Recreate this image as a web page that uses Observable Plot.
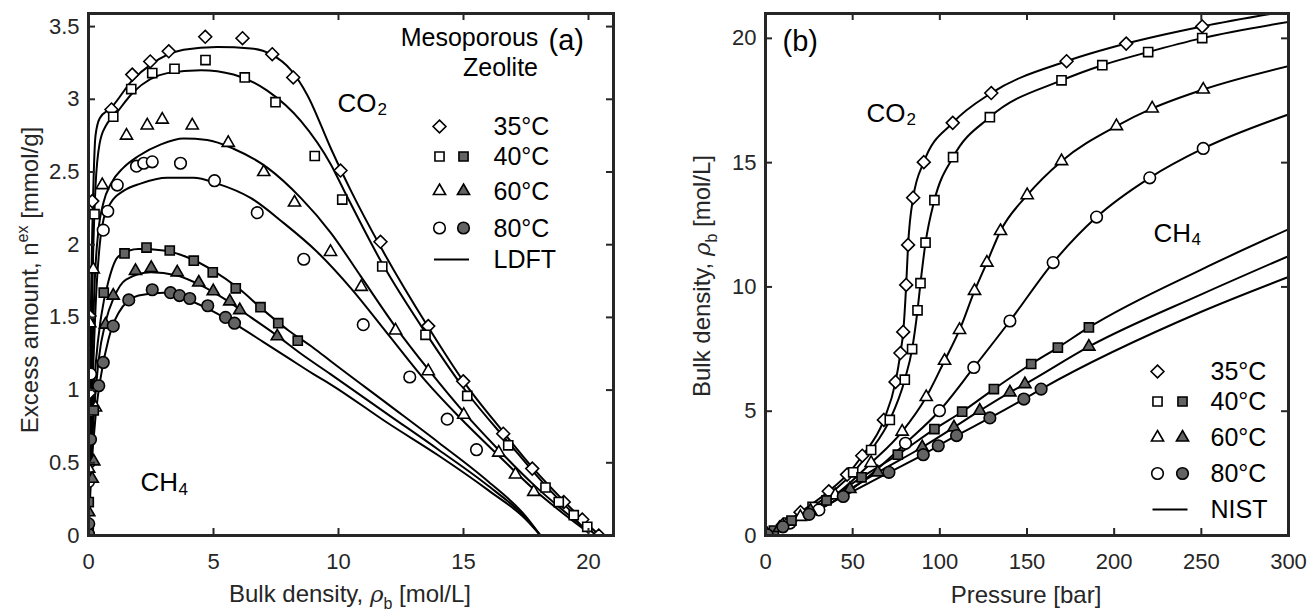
<!DOCTYPE html>
<html><head><meta charset="utf-8">
<script src="https://cdn.jsdelivr.net/npm/d3@7"></script>
<script src="https://cdn.jsdelivr.net/npm/@observablehq/plot@0.6"></script>
<style>
body{margin:0;background:#fff;}
#fig{position:relative;width:1309px;height:610px;font-family:'Liberation Sans',Arial,Helvetica,sans-serif;color:#262626;}
.panel{position:absolute;top:0;}
.lab{position:absolute;font-size:24px;white-space:nowrap;line-height:24px;color:#262626;}
.lab sup{font-size:16px;vertical-align:10px;line-height:0;}
.lab sub{font-size:16px;vertical-align:-7px;line-height:0;}
.lab i{font-family:'DejaVu Serif',serif;font-size:23px;}
</style></head>
<body><div id="fig"></div>
<script>
// ---------- Panel (a): excess amount vs bulk density ----------
const aXTicks = [0, 5, 10, 15, 20];
const aYTicks = [0, 0.5, 1, 1.5, 2, 2.5, 3, 3.5];
// measured points [bulk density mol/L, excess mmol/g]
const aCO2_35 = [[0.02,0.49],[0.03,0.98],[0.04,1.51],[0.15,2.30],[0.92,2.93],[1.75,3.17],[2.47,3.26],[3.21,3.33],[4.67,3.43],[6.16,3.42],[7.35,3.31],[8.19,3.15],[10.08,2.51],[11.68,2.02],[13.59,1.44],[14.99,1.06],[16.59,0.70],[17.75,0.46],[19.01,0.23],[19.75,0.11],[20.41,0.0]];
const aCO2_40 = [[0.01,0.85],[0.24,2.21],[0.99,2.88],[1.71,3.07],[2.55,3.18],[3.44,3.21],[4.68,3.27],[6.25,3.15],[7.48,2.98],[9.05,2.61],[10.15,2.31],[11.75,1.85],[13.48,1.38],[15.15,0.96],[16.79,0.62],[18.28,0.33],[18.81,0.23],[19.41,0.14],[19.95,0.06]];
const aCO2_60 = [[0.01,0.46],[0.28,0.88],[0.05,1.46],[0.19,1.83],[0.55,2.41],[1.52,2.75],[2.35,2.82],[2.95,2.86],[4.15,2.82],[5.59,2.70],[7.01,2.50],[8.24,2.29],[9.68,1.95],[10.91,1.71],[12.28,1.41],[13.59,1.13],[15.01,0.83],[16.41,0.57],[17.08,0.42],[17.81,0.30]];
const aCO2_80 = [[0.0,0.37],[0.08,1.11],[0.59,2.10],[0.77,2.23],[1.15,2.41],[1.92,2.54],[2.21,2.56],[2.55,2.57],[3.68,2.56],[5.04,2.44],[6.75,2.22],[8.61,1.90],[10.99,1.45],[12.85,1.09],[14.35,0.80],[15.52,0.59]];
const aCH4_40 = [[0.01,0.06],[0.01,0.23],[0.21,0.86],[0.61,1.67],[1.44,1.94],[2.32,1.98],[3.25,1.96],[4.21,1.89],[4.97,1.81],[5.89,1.70],[6.88,1.57],[7.59,1.46],[8.37,1.34]];
const aCH4_60 = [[0.01,0.16],[0.15,0.39],[0.21,0.51],[0.68,1.45],[0.99,1.65],[1.88,1.82],[2.51,1.84],[3.55,1.81],[4.41,1.74],[4.99,1.68],[5.65,1.61],[6.05,1.55],[7.55,1.37]];
const aCH4_80 = [[0.0,0.01],[0.01,0.08],[0.08,0.66],[0.41,1.03],[0.59,1.19],[0.99,1.44],[1.61,1.62],[2.55,1.69],[3.28,1.67],[3.64,1.65],[4.05,1.63],[4.77,1.58],[5.48,1.50],[5.84,1.46]];
// LDFT model curves
const ldftCO2_35 = [[0,0],[0.05,0.8],[0.1,1.6],[0.18,2.3],[0.28,2.75],[0.45,2.87],[0.9,2.94],[1.75,3.13],[2.5,3.24],[3.8,3.34],[5.15,3.36],[6.5,3.35],[7.3,3.31],[8.1,3.2],[8.75,3.03],[9.7,2.66],[10.5,2.37],[11.7,1.98],[13.6,1.43],[15,1.06],[16.6,0.71],[17.8,0.46],[19,0.24],[20,0.07],[20.45,0.0]];
const ldftCO2_40 = [[0,0],[0.05,0.6],[0.1,1.2],[0.18,1.9],[0.28,2.4],[0.45,2.7],[0.7,2.82],[1.0,2.88],[1.8,3.05],[3.15,3.18],[4.5,3.2],[5.8,3.17],[7.15,3.06],[8.5,2.85],[9.7,2.55],[10.2,2.38],[11.75,1.87],[13.5,1.39],[15.15,0.98],[16.8,0.64],[18.3,0.34],[19.4,0.15],[20.3,0.0]];
const ldftCO2_60 = [[0,0],[0.08,0.6],[0.15,1.2],[0.25,1.75],[0.4,2.1],[0.6,2.29],[0.9,2.42],[1.4,2.53],[2.0,2.61],[2.9,2.69],[3.8,2.73],[4.75,2.72],[5.8,2.66],[7.15,2.53],[8.5,2.32],[9.7,2.08],[10.9,1.78],[12.3,1.43],[13.6,1.14],[15,0.85],[16.4,0.59],[17.8,0.35],[19,0.17],[20,0.03]];
const ldftCO2_80 = [[0,0],[0.1,0.6],[0.2,1.2],[0.32,1.7],[0.45,2.0],[0.61,2.18],[0.9,2.29],[1.4,2.37],[2.08,2.42],[3.15,2.46],[4.2,2.46],[5.15,2.42],[6.5,2.32],[7.8,2.15],[9.15,1.95],[10.5,1.7],[12,1.38],[13.5,1.06],[14.8,0.82],[16.4,0.55],[17.8,0.32],[19,0.15],[20,0.02]];
const ldftCH4_40 = [[0,0],[0.05,0.4],[0.15,0.8],[0.3,1.2],[0.5,1.5],[0.8,1.75],[1.2,1.92],[2.0,1.97],[3.0,1.96],[4.0,1.91],[5.0,1.82],[6.0,1.7],[7.0,1.55],[8.0,1.41],[9.0,1.29],[9.68,1.2],[12,0.9],[14,0.64],[16,0.37],[17.5,0.13],[18.08,0.0]];
const ldftCH4_60 = [[0,0],[0.08,0.4],[0.2,0.8],[0.4,1.2],[0.7,1.48],[1.0,1.63],[1.5,1.76],[2.5,1.81],[3.5,1.79],[4.5,1.72],[5.5,1.62],[6.5,1.5],[7.5,1.38],[8.5,1.25],[9.68,1.11],[12,0.83],[14,0.59],[16,0.34],[17.5,0.12],[18.08,0.0]];
const ldftCH4_80 = [[0,0],[0.1,0.4],[0.3,0.85],[0.5,1.1],[0.8,1.35],[1.2,1.53],[2.0,1.65],[3.0,1.67],[4.0,1.62],[5.0,1.54],[6.0,1.44],[7.0,1.33],[8.0,1.22],[9.0,1.11],[9.68,1.04],[12,0.77],[14,0.55],[16,0.31],[17.5,0.11],[18.08,0.0]];

// ---------- Panel (b): bulk density vs pressure ----------
const bXTicks = [0, 50, 100, 150, 200, 250, 300];
const bYTicks = [0, 5, 10, 15, 20];
const bCO2_35 = [[0.5,0.02],[10,0.43],[20.1,0.94],[36.3,1.78],[46.8,2.45],[55.5,3.21],[67.9,4.65],[74.6,6.18],[77.4,7.34],[79.0,8.19],[80.7,10.08],[81.8,11.69],[84.7,13.59],[90.8,15.02],[107.4,16.6],[129.5,17.8],[172.7,19.08],[206.9,19.79],[250.5,20.48]];
const bCO2_40 = [[1,0.04],[13,0.52],[27,1.15],[50.3,2.54],[60.6,3.44],[71.3,4.65],[79.9,6.27],[84.1,7.5],[87.2,9.06],[88.9,10.15],[91.8,11.78],[96.9,13.49],[107.6,15.22],[128.7,16.83],[169.8,18.31],[193.2,18.92],[219.5,19.45],[250.5,20.01]];
const bCO2_60 = [[1,0.04],[20,0.75],[40,1.62],[60.6,2.92],[78.4,4.18],[92.2,5.57],[102.7,7.03],[111.3,8.27],[119.9,9.84],[127,10.98],[134.8,12.25],[150.1,13.69],[169.8,15.06],[201.3,16.47],[221.8,17.18],[251.1,17.94]];
const bCO2_80 = [[1,0.03],[14,0.5],[30.6,1.03],[80.3,3.71],[99.8,5.02],[119.5,6.76],[140.2,8.63],[165,10.98],[189.9,12.81],[220.4,14.39],[251.1,15.57]];
const bCH4_40 = [[1,0.04],[4.8,0.2],[14.9,0.6],[35,1.41],[55.1,2.34],[75.9,3.25],[96.9,4.28],[112.8,4.98],[131,5.89],[152.4,6.9],[167.7,7.56],[185.5,8.37]];
const bCH4_60 = [[1,0.03],[8,0.3],[25.8,1.0],[48.4,1.87],[64.4,2.54],[89.9,3.55],[108.1,4.35],[122.9,5.02],[140.2,5.76],[148.8,6.09],[185.5,7.6]];
const bCH4_80 = [[1,0.03],[10,0.35],[25,0.85],[44.6,1.57],[70.8,2.54],[90.5,3.25],[99.1,3.61],[109.6,4.02],[128.7,4.73],[148.2,5.49],[158.1,5.89]];
// NIST curves
const nistCO2_35 = [[0,0],[10,0.43],[20.1,0.94],[36.3,1.78],[46.8,2.45],[55.5,3.21],[67.9,4.65],[74.6,6.18],[77.4,7.34],[79.0,8.19],[80.7,10.08],[81.8,11.69],[84.7,13.59],[90.8,15.02],[107.4,16.6],[129.5,17.8],[172.7,19.08],[206.9,19.79],[250.5,20.48],[300,21.1]];
const nistCO2_40 = [[0,0],[13,0.52],[27,1.15],[50.3,2.54],[60.6,3.44],[71.3,4.65],[79.9,6.27],[84.1,7.5],[87.2,9.06],[88.9,10.15],[91.8,11.78],[96.9,13.49],[107.6,15.22],[128.7,16.83],[169.8,18.31],[193.2,18.92],[219.5,19.45],[250.5,20.01],[300,20.66]];
const nistCO2_60 = [[0,0],[20,0.75],[40,1.62],[60.6,2.92],[78.4,4.18],[92.2,5.57],[102.7,7.03],[111.3,8.27],[119.9,9.84],[127,10.98],[134.8,12.25],[150.1,13.69],[169.8,15.06],[201.3,16.47],[221.8,17.18],[251.1,17.94],[300,18.88]];
const nistCO2_80 = [[0,0],[14,0.5],[30.6,1.03],[56,2.2],[80.3,3.71],[99.8,5.02],[119.5,6.76],[140.2,8.63],[165,10.98],[189.9,12.81],[220.4,14.39],[251.1,15.57],[300,16.94]];
const nistCH4_40 = [[0,0],[14.9,0.6],[35,1.41],[55.1,2.34],[75.9,3.25],[96.9,4.28],[112.8,4.98],[131,5.89],[152.4,6.9],[167.7,7.56],[185.5,8.37],[250,10.7],[300,12.32]];
const nistCH4_60 = [[0,0],[25.8,1.0],[48.4,1.87],[64.4,2.54],[89.9,3.55],[108.1,4.35],[122.9,5.02],[140.2,5.76],[148.8,6.09],[185.5,7.6],[250,9.7],[300,11.24]];
const nistCH4_80 = [[0,0],[25,0.85],[44.6,1.57],[70.8,2.54],[90.5,3.25],[99.1,3.61],[109.6,4.02],[128.7,4.73],[148.2,5.49],[158.1,5.89],[250,9.0],[300,10.4]];

const legendLabels = ["35°C", "40°C", "60°C", "80°C"];

// ---------- drawing ----------
const FONT = "'Liberation Sans', Arial, Helvetica, sans-serif";
const INK = "#262626";
const GRAY = "#636363";
const R = 5.8;
const TICK = 7;
const legendLine = {draw(ctx) { ctx.moveTo(-17.5, 0); ctx.lineTo(17.5, 0); }};

const seriesStyle = [
  {sym: "diamond2", fill: "white"},
  {sym: "square2", fill: "white"},
  {sym: "triangle2", fill: "white"},
  {sym: "circle", fill: "white"},
  {sym: "square2", fill: GRAY},
  {sym: "triangle2", fill: GRAY},
  {sym: "circle", fill: GRAY}
];

function toRows(arr) { return arr.map(([x, y]) => ({x, y})); }

function dotMarks(series) {
  return series.map((s, i) => Plot.dot(toRows(s), {
    x: "x", y: "y", r: R, symbol: () => seriesStyle[i].sym,
    fill: seriesStyle[i].fill, stroke: "black", strokeWidth: 1.6, clip: true
  }));
}
function lineMarks(curves) {
  return curves.map(c => Plot.line(toRows(c), {
    x: "x", y: "y", curve: "monotone-x", stroke: "black", strokeWidth: 2, clip: true
  }));
}
// frame inner width/height are passed so ticks can be inset to TICK px from each edge
function axes(xt, yt, fmt, fw, fh) {
  const tk = {stroke: INK, strokeWidth: 2};
  return [
    Plot.axisX({anchor: "bottom", ticks: xt, tickSize: 0, tickPadding: 18, tickFormat: fmt, fill: INK, label: null}),
    Plot.axisY({anchor: "left", ticks: yt, tickSize: 0, tickPadding: 9, tickFormat: fmt, fill: INK, label: null}),
    Plot.tickX(xt, {x: d => d, insetTop: fh - TICK, ...tk}),
    Plot.tickX(xt, {x: d => d, insetBottom: fh - TICK, ...tk}),
    Plot.tickY(yt, {y: d => d, insetRight: fw - TICK, ...tk}),
    Plot.tickY(yt, {y: d => d, insetLeft: fw - TICK, ...tk})
  ];
}
function note(txt, dx, dy, size, anchor = "start") {
  return Plot.text([txt], {frameAnchor: "top-left", dx, dy, text: d => d, textAnchor: anchor, lineAnchor: "middle", fontSize: size, fill: "black"});
}
function legend(dx0, dx1, dxText, dys, lineDy, lineLabel) {
  const marks = [];
  const openSyms = ["diamond2", "square2", "triangle2", "circle"];
  const filledSyms = [null, "square2", "triangle2", "circle"];
  legendLabels.forEach((lab, i) => {
    marks.push(Plot.dot([lab], {frameAnchor: "top-left", dx: dx0, dy: dys[i], symbol: openSyms[i], r: R, fill: "white", stroke: "black", strokeWidth: 1.6}));
    if (filledSyms[i]) marks.push(Plot.dot([lab], {frameAnchor: "top-left", dx: dx1, dy: dys[i], symbol: filledSyms[i], r: R, fill: GRAY, stroke: "black", strokeWidth: 1.6}));
    marks.push(note(lab, dxText, dys[i] + 0.5, 25));
  });
  marks.push(Plot.dot([lineLabel], {frameAnchor: "top-left", dx: (dx0 + dx1) / 2, dy: lineDy, symbol: legendLine, r: 5, fill: "none", stroke: "black", strokeWidth: 2}));
  marks.push(note(lineLabel, dxText, lineDy, 25));
  return marks;
}

const fmtNum = d => String(d);

const A = {width: 654, height: 610, marginLeft: 88, marginTop: 13, marginRight: 41, marginBottom: 75};
const B = {width: 655, height: 610, marginLeft: 111, marginTop: 13, marginRight: 21, marginBottom: 75};
const inner = m => [m.width - m.marginLeft - m.marginRight, m.height - m.marginTop - m.marginBottom];

const plotA = Plot.plot({
  ...A,
  style: {fontFamily: FONT, fontSize: "22px", color: INK, background: "white"},
  x: {domain: [0, 21]},
  y: {domain: [0, 3.59]},
  marks: [
    ...lineMarks([ldftCO2_35, ldftCO2_40, ldftCO2_60, ldftCO2_80, ldftCH4_40, ldftCH4_60, ldftCH4_80]),
    ...dotMarks([aCO2_35, aCO2_40, aCO2_60, aCO2_80, aCH4_40, aCH4_60, aCH4_80]),
    Plot.frame({stroke: INK, strokeWidth: 3}),
    ...axes(aXTicks, aYTicks, fmtNum, ...inner(A)),
    ...legend(351, 375, 405, [113, 143, 177.5, 214.5], 246, "LDFT"),
    note("Mesoporous", 381, 24, 25, "middle"),
    note("Zeolite", 412, 54, 25, "middle"),
    note("(a)", 460, 27, 29),
    note("CO", 249, 90, 26),
    note("2", 289, 96, 17),
    note("CH", 52, 469, 26),
    note("4", 90, 476, 17)
  ]
});

const plotB = Plot.plot({
  ...B,
  style: {fontFamily: FONT, fontSize: "22px", color: INK, background: "white"},
  x: {domain: [0, 300]},
  y: {domain: [0, 21]},
  marks: [
    ...lineMarks([nistCO2_35, nistCO2_40, nistCO2_60, nistCO2_80, nistCH4_40, nistCH4_60, nistCH4_80]),
    ...dotMarks([bCO2_35, bCO2_40, bCO2_60, bCO2_80, bCH4_40, bCH4_60, bCH4_80]),
    Plot.frame({stroke: INK, strokeWidth: 3}),
    ...axes(bXTicks, bYTicks, fmtNum, ...inner(B)),
    ...legend(392, 417, 445, [358, 388, 424, 460], 496, "NIST"),
    note("(b)", 17, 28, 29),
    note("CO", 101, 100, 26),
    note("2", 141, 106, 17),
    note("CH", 388, 220, 26),
    note("4", 426, 226, 17)
  ]
});

const fig = document.getElementById("fig");
plotA.classList.add("panel"); plotA.style.left = "0px";
plotB.classList.add("panel"); plotB.style.left = "654px";
fig.appendChild(plotA);
fig.appendChild(plotB);

function addLabel(html, cx, cy, rotate) {
  const d = document.createElement("div");
  d.className = "lab";
  d.innerHTML = html;
  d.style.left = cx + "px";
  d.style.top = cy + "px";
  d.style.transform = "translate(-50%,-50%)" + (rotate ? " rotate(-90deg)" : "");
  fig.appendChild(d);
}
addLabel("Excess amount, n<sup>ex</sup> [mmol/g]", 30, 280, true);
addLabel("Bulk density, <i>ρ</i><sub>b</sub> [mol/L]", 702, 276, true);
addLabel("Bulk density, <i>ρ</i><sub>b</sub> [mol/L]", 350, 594, false);
addLabel("Pressure [bar]", 1026, 595, false);
</script></body></html>
